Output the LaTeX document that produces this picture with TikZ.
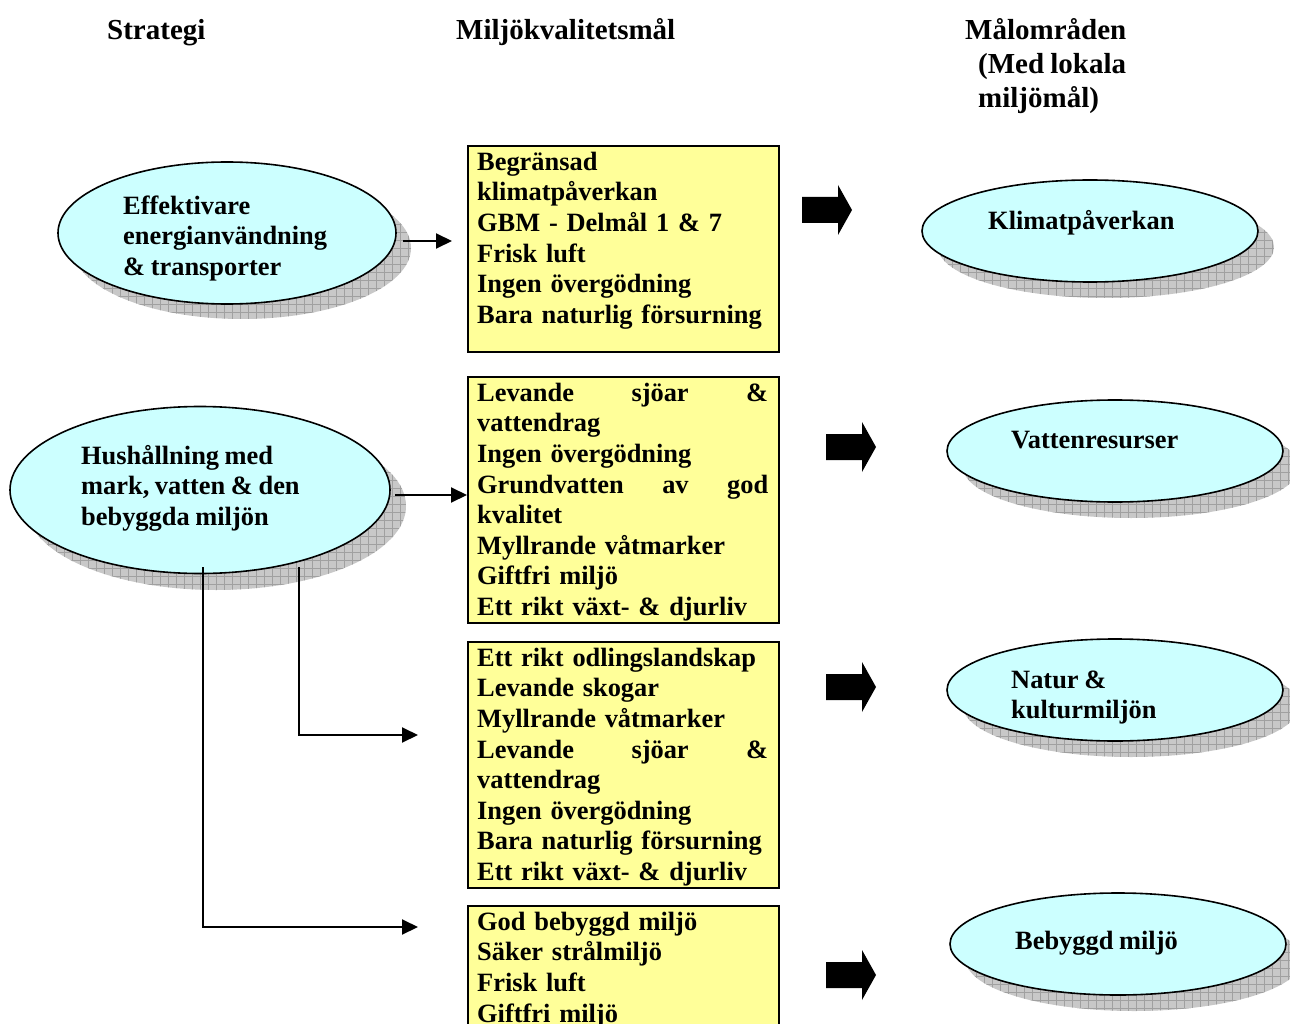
\documentclass[tikz,border=0pt]{standalone}
\usepackage{fontspec}
\setmainfont{Liberation Serif}[WordSpace=0.85]
\usetikzlibrary{arrows.meta,shapes.geometric}
\definecolor{ellfill}{HTML}{CCFFFF}
\definecolor{boxfill}{HTML}{FFFF99}
\definecolor{shadowfill}{HTML}{C8C8C8}
\definecolor{shadowgrid}{HTML}{A0A0A0}
\tikzset{
  ell/.style={shape=ellipse, draw=black, line width=1.6pt, fill=ellfill, inner sep=0pt},
  goalbox/.style={draw=black, line width=2.4pt, fill=boxfill, inner sep=0pt, anchor=north west},
  txt/.style={font=\fontsize{26.4}{30.6}\selectfont\bfseries, inner sep=0pt, anchor=north west, align=left},
  hdr/.style={font=\fontsize{29}{34}\selectfont\bfseries, inner sep=0pt, anchor=north west, align=left},
  conn/.style={line width=2pt, -{Triangle[length=16pt,width=15pt]}},
}
\begin{document}
\begin{tikzpicture}[x=1pt,y=-1pt]
\useasboundingbox (0,0) rectangle (1290,1024);
\clip (0,0) rectangle (1290,1024);
\fill[white] (0,0) rectangle (1290,1024);

% headers
\node[hdr] (h1) at (107,15.2) {\strut Strategi};
\node[hdr] (h2) at (456,15.2) {\strut Miljökvalitetsmål};
\node[hdr] (h3) at (965,15.2) {\strut Målområden\\\hspace*{13pt}(Med lokala\\\hspace*{13pt}miljömål)};

% shadows
\foreach \cx/\cy/\rx/\ry/\o in {227/233/169/71/15, 200/490/190/84/16, 1090/231/168/51/16, 1115/451/168/51/16, 1115/690/168/51/16, 1118/944/168/51/16} {
  \begin{scope}
    \clip (\cx+\o,\cy+\o) ellipse [x radius=\rx pt, y radius=\ry pt];
    \fill[shadowfill] (\cx+\o-\rx-2,\cy+\o-\ry-2) rectangle (\cx+\o+\rx+2,\cy+\o+\ry+2);
    \draw[shadowgrid, line width=0.7pt, step=8pt] (\cx+\o-\rx-10,\cy+\o-\ry-10) grid (\cx+\o+\rx+10,\cy+\o+\ry+10);
  \end{scope}
}

% ellipses
\node[ell, minimum width=338pt, minimum height=142pt] (e1) at (227,233) {};
\node[ell, minimum width=380pt, minimum height=167pt] (e2) at (200,490) {};
\node[ell, minimum width=336pt, minimum height=102pt] (e3) at (1090,231) {};
\node[ell, minimum width=336pt, minimum height=102pt] (e4) at (1115,451) {};
\node[ell, minimum width=336pt, minimum height=102pt] (e5) at (1115,690) {};
\node[ell, minimum width=336pt, minimum height=102pt] (e6) at (1118,944) {};

\node[txt] (t1) at (123,192.6) {\strut Effektivare\\energianvändning\\\& transporter};
\node[txt] (t2) at (81,442.6) {\strut Hushållning med\\mark, vatten \& den\\bebyggda miljön};
\node[txt] (t3) at (988,207.6) {\strut Klimatpåverkan};
\node[txt] (t4) at (1011,426.6) {\strut Vattenresurser};
\node[txt] (t5) at (1011,666.6) {\strut Natur \&\\kulturmiljön};
\node[txt] (t6) at (1015,927.6) {\strut Bebyggd miljö};

% boxes
\node[goalbox, minimum width=311pt, minimum height=206pt] (b1) at (467,145) {};
\node[goalbox, minimum width=311pt, minimum height=246pt] (b2) at (467,376) {};
\node[goalbox, minimum width=311pt, minimum height=246pt] (b3) at (467,641) {};
\node[goalbox, minimum width=311pt, minimum height=160pt] (b4) at (467,905) {};

\node[txt, text width=291pt] (bt1) at (477,148.6) {\strut Begränsad\\klimatpåverkan\\GBM - Delmål 1 \& 7\\Frisk luft\\Ingen övergödning\\Bara naturlig försurning};
\node[txt, text width=291pt] (bt2) at (477,379.6) {\strut Levande\hfill sjöar\hfill\&\\vattendrag\\Ingen övergödning\\Grundvatten\hfill av\hfill god\\kvalitet\\Myllrande våtmarker\\Giftfri miljö\\Ett rikt växt- \& djurliv};
\node[txt, text width=291pt] (bt3) at (477,644.6) {\strut Ett rikt odlingslandskap\\Levande skogar\\Myllrande våtmarker\\Levande\hfill sjöar\hfill\&\\vattendrag\\Ingen övergödning\\Bara naturlig försurning\\Ett rikt växt- \& djurliv};
\node[txt, text width=291pt] (bt4) at (477,908.6) {\strut God bebyggd miljö\\Säker strålmiljö\\Frisk luft\\Giftfri miljö};

% block arrows
\foreach \ax/\ay in {802/210, 826/447, 826/687, 826/975} {
  \fill[black] (\ax,\ay-13) -- ++(36,0) -- ++(0,-12) -- ++(14,25) -- ++(-14,25) -- ++(0,-12) -- ++(-36,0) -- cycle;
}

% connectors
\coordinate (c1) at (403,241);
\coordinate (c1e) at (452,241);
\coordinate (c2) at (395,495);
\coordinate (c3) at (299,567);
\coordinate (c3e) at (418,735);
\coordinate (c4) at (203,567);
\coordinate (c4e) at (418,927);
\draw[conn] (c1) -- (c1e);
\draw[conn] (c2) -- (b2.west |- c2);
\draw[conn] (c3) |- (c3e);
\draw[conn] (c4) |- (c4e);
\end{tikzpicture}
\end{document}
